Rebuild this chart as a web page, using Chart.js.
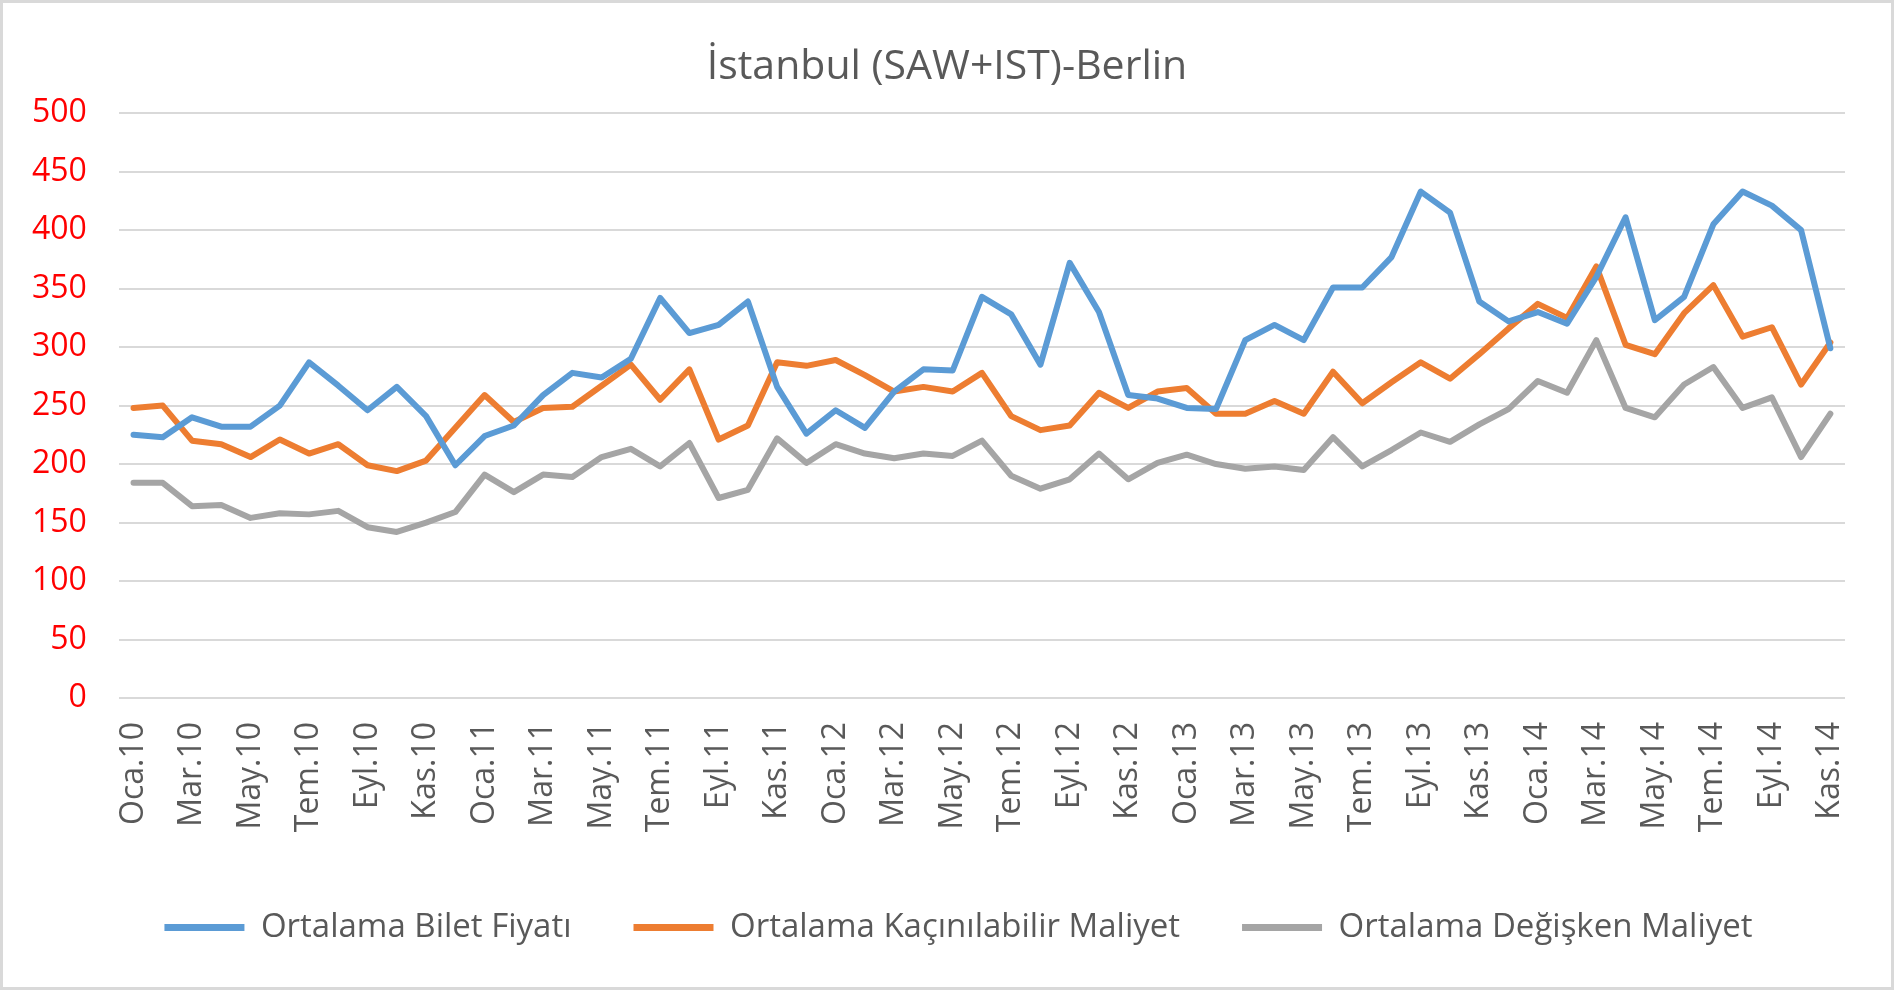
<!DOCTYPE html>
<html>
<head>
<meta charset="utf-8">
<script src="https://cdn.jsdelivr.net/npm/chart.js@4.4.1/dist/chart.umd.min.js"></script>
<style>
  html, body { margin: 0; padding: 0; background: #fff; }
  #wrap { position: absolute; left: 0; top: 0; width: 1894px; height: 990px; }
</style>
</head>
<body>
<div id="wrap"><canvas id="lineChart" width="1894" height="990"></canvas></div>
<script>
// months, Oca.10 .. Kas.14
var months = [
  "Oca.10","Şub.10","Mar.10","Nis.10","May.10","Haz.10","Tem.10","Ağu.10","Eyl.10","Eki.10","Kas.10","Ara.10",
  "Oca.11","Şub.11","Mar.11","Nis.11","May.11","Haz.11","Tem.11","Ağu.11","Eyl.11","Eki.11","Kas.11","Ara.11",
  "Oca.12","Şub.12","Mar.12","Nis.12","May.12","Haz.12","Tem.12","Ağu.12","Eyl.12","Eki.12","Kas.12","Ara.12",
  "Oca.13","Şub.13","Mar.13","Nis.13","May.13","Haz.13","Tem.13","Ağu.13","Eyl.13","Eki.13","Kas.13","Ara.13",
  "Oca.14","Şub.14","Mar.14","Nis.14","May.14","Haz.14","Tem.14","Ağu.14","Eyl.14","Eki.14","Kas.14"
];

var biletFiyati = [
  225,223,240,232,232,250,287,267,246,266,241,199,
  224,233,259,278,274,290,342,312,319,339,266,226,
  246,231,262,281,280,343,328,285,372,330,259,256,
  248,247,306,319,306,351,351,377,433,415,339,322,
  330,320,360,411,323,343,405,433,421,400,299
];

var kacinilabilirMaliyet = [
  248,250,220,217,206,221,209,217,199,194,203,231,
  259,236,248,249,267,285,255,281,221,233,287,284,
  289,276,262,266,262,278,241,229,233,261,248,262,
  265,243,243,254,243,279,252,270,287,273,294,316,
  337,325,369,302,294,329,353,309,317,268,304
];

var degiskenMaliyet = [
  184,184,164,165,154,158,157,160,146,142,150,159,
  191,176,191,189,206,213,198,218,171,178,222,201,
  217,209,205,209,207,220,190,179,187,209,187,201,
  208,200,196,198,195,223,198,212,227,219,234,247,
  271,261,306,248,240,268,283,248,257,206,243
];

var yTicks = [0, 50, 100, 150, 200, 250, 300, 350, 400, 450, 500];

var FONT = "'Open Sans', 'Noto Sans', sans-serif";

// white background + thin grey frame like the original
var frame = {
  id: 'frame',
  afterLayout: function(chart) {
    // centre title on the whole canvas, nudge legend row right
    if (chart.titleBlock) {
      chart.titleBlock.left = 0;
      chart.titleBlock.right = chart.width;
    }
    if (chart.legend) {
      chart.legend.left += 36;
      chart.legend.right += 36;
    }
  },
  beforeDraw: function(chart) {
    var c = chart.ctx;
    c.save();
    c.fillStyle = '#ffffff';
    c.fillRect(0, 0, chart.width, chart.height);
    c.strokeStyle = '#d9d9d9';
    c.lineWidth = 3;
    c.strokeRect(1.5, 1.5, chart.width - 3, chart.height - 3);
    c.restore();
  }
};

function series(label, data, color) {
  return {
    label: label,
    data: data,
    borderColor: color,
    backgroundColor: color,
    borderWidth: 6,
    pointRadius: 0,
    pointHoverRadius: 0,
    tension: 0,
    fill: false,
    borderJoinStyle: 'round',
    borderCapStyle: 'round'
  };
}

var ctx = document.getElementById("lineChart");
var myLineChart = new Chart(ctx, {
  type: 'line',
  data: {
    labels: months,
    datasets: [
      series("Ortalama Bilet Fiyatı", biletFiyati, "#5B9BD5"),
      series("Ortalama Kaçınılabilir Maliyet", kacinilabilirMaliyet, "#ED7D31"),
      series("Ortalama Değişken Maliyet", degiskenMaliyet, "#A5A5A5")
    ]
  },
  plugins: [frame],
  options: {
    responsive: false,
    animation: false,
    devicePixelRatio: 1,
    layout: { padding: { left: 0, right: 49, top: 20, bottom: 36 } },
    plugins: {
      title: {
        display: true,
        text: "İstanbul (SAW+IST)-Berlin",
        color: '#595959',
        font: { family: FONT, size: 41, weight: 'normal' },
        padding: { top: 23, bottom: 21 }
      },
      legend: {
        position: 'bottom',
        labels: {
          color: '#595959',
          font: { family: FONT, size: 33 },
          boxWidth: 80,
          boxHeight: 7,
          padding: 62,
          generateLabels: function(chart) {
            var items = Chart.defaults.plugins.legend.labels.generateLabels(chart);
            items.forEach(function(it) { it.lineWidth = 0; });
            return items;
          }
        }
      },
      tooltip: { enabled: false }
    },
    scales: {
      x: {
        offset: true,
        grid: { display: false, drawTicks: false },
        border: { display: false },
        ticks: {
          autoSkip: false,
          minRotation: 90,
          maxRotation: 90,
          padding: 24,
          color: '#595959',
          font: { family: FONT, size: 32 },
          callback: function(val, i) {
            return i % 2 === 0 ? this.getLabelForValue(val) : '';
          }
        },
        afterFit: function(scale) {
          scale.height = 151;
          scale.paddingLeft = 0;
          scale.paddingRight = 0;
        }
      },
      y: {
        min: 0,
        max: 500,
        afterBuildTicks: function(scale) {
          scale.ticks = yTicks.map(function(v) { return { value: v }; });
        },
        grid: { color: '#d9d9d9', lineWidth: 2, drawTicks: false },
        border: { display: false },
        ticks: {
          padding: 32,
          color: '#ff0000',
          font: { family: FONT, size: 32 }
        }
      }
    }
  }
});
</script>
</body>
</html>
